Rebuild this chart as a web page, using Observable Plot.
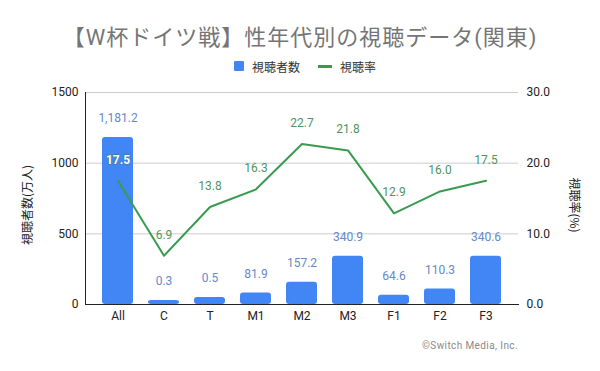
<!DOCTYPE html>
<html>
<head>
<meta charset="utf-8">
<script src="https://cdn.jsdelivr.net/npm/d3@7"></script>
<script src="https://cdn.jsdelivr.net/npm/@observablehq/plot@0.6"></script>
<style>
  html, body { margin: 0; padding: 0; background: #fff; }
  body { position: relative; width: 600px; height: 371px; overflow: hidden; font-family: Roboto, "Noto Sans CJK JP", sans-serif; }
  #header { position: relative; width: 600px; height: 80px; }
  #title { position: absolute; left: 0; width: 600px; top: 25px; text-align: center; font-size: 22px; line-height: 26px; letter-spacing: 1px; color: #757575; font-family: Roboto, "Noto Sans CJK JP", sans-serif; }
  #legend { position: absolute; left: 0; width: 610px; top: 59px; height: 14px; display: flex; justify-content: center; align-items: center; font-size: 12px; color: #333; font-family: "Noto Sans CJK JP", sans-serif; }
  .sw-bar { width: 10px; height: 10px; background: #4285f4; border-radius: 1px; margin-right: 8px; }
  .sw-line { width: 14px; height: 3px; background: #3a9b50; margin-left: 18px; margin-right: 8px; }
  #caption { width: 518px; text-align: right; margin-top: 10px; font-size: 10px; line-height: 12px; letter-spacing: 0.4px; color: #8a8a8a; font-family: Roboto, sans-serif; }
  .ytitle { position: absolute; width: 120px; height: 14px; line-height: 14px; text-align: center; font-size: 12px; color: #222; font-family: "Noto Sans CJK JP", sans-serif; }
  #ytitle-left { left: -33px; top: 198px; transform: rotate(-90deg); }
  #ytitle-right { left: 515px; top: 198px; transform: rotate(90deg); }
</style>
</head>
<body>
<div id="header">
  <div id="title">【W杯ドイツ戦】性年代別の視聴データ(関東)</div>
  <div id="legend"><span class="sw-bar"></span><span>視聴者数</span><span class="sw-line"></span><span>視聴率</span></div>
</div>
<div id="chart"></div>
<div id="caption">©Switch Media, Inc.</div>
<div class="ytitle" id="ytitle-left">視聴者数(万人)</div>
<div class="ytitle" id="ytitle-right">視聴率(%)</div>
<script>
const categories = ["All", "C", "T", "M1", "M2", "M3", "F1", "F2", "F3"];
// bar heights as drawn (万人)
const viewers = [1181.2, 28, 50, 81.9, 157.2, 340.9, 64.6, 110.3, 340.6];
// bar labels as printed
const viewerLabels = ["1,181.2", "0.3", "0.5", "81.9", "157.2", "340.9", "64.6", "110.3", "340.6"];
// 視聴率 (%)
const ratings = [17.5, 6.9, 13.8, 16.3, 22.7, 21.8, 12.9, 16.0, 17.5];
const leftTicks = [0, 500, 1000, 1500];
const rightTicks = [0, 10, 20, 30];
const leftMax = 1500, rightMax = 30;

const k = leftMax / rightMax;
const blue = "#4285f4", green = "#3a9b50";
const data = categories.map((c, i) => ({cat: c, viewers: viewers[i], label: viewerLabels[i], rate: ratings[i]}));
const onBar = d => d.rate * k < d.viewers;

const chart = Plot.plot({
  width: 600,
  height: 250,
  marginTop: 12,
  marginBottom: 26,
  marginLeft: 85,
  marginRight: 82,
  style: {fontFamily: 'Roboto, "Noto Sans CJK JP", sans-serif', fontSize: "12px", color: "#222", background: "white"},
  x: {domain: categories, padding: 0.32, axis: null},
  y: {domain: [0, leftMax], axis: null},
  marks: [
    Plot.gridY({ticks: leftTicks.filter(t => t > 0), stroke: "#cccccc", strokeOpacity: 1}),
    Plot.barY(data, {x: "cat", y: "viewers", fill: blue, rx: 3}),
    Plot.frame({anchor: "bottom", stroke: "#222"}),
    Plot.frame({anchor: "left", stroke: "#222"}),
    Plot.axisX({tickSize: 0, tickPadding: 7, fontSize: 12, label: null}),
    Plot.axisY({anchor: "left", ticks: leftTicks, tickFormat: d => String(d), tickSize: 0, tickPadding: 7, fontSize: 12, label: null}),
    Plot.axisY({anchor: "right", ticks: rightTicks.map(t => t * k), tickFormat: d => (d / k).toFixed(1), tickSize: 0, tickPadding: 8, fontSize: 12, label: null}),
    Plot.line(data, {x: "cat", y: d => d.rate * k, stroke: green, strokeWidth: 2}),
    Plot.text(data, {x: "cat", y: "viewers", text: "label", dy: -19, fill: "#6688cc", fontSize: 12}),
    Plot.text(data.filter(d => !onBar(d)), {x: "cat", y: d => d.rate * k, text: d => d.rate.toFixed(1), dy: -21, fill: "#4f9462", fontSize: 12}),
    Plot.text(data.filter(onBar), {x: "cat", y: d => d.rate * k, text: d => d.rate.toFixed(1), dy: -21, fill: "white", stroke: "#3b7a52", strokeWidth: 0.8, fontSize: 12, fontWeight: "bold"})
  ]
});
document.getElementById("chart").appendChild(chart);
</script>
</body>
</html>
